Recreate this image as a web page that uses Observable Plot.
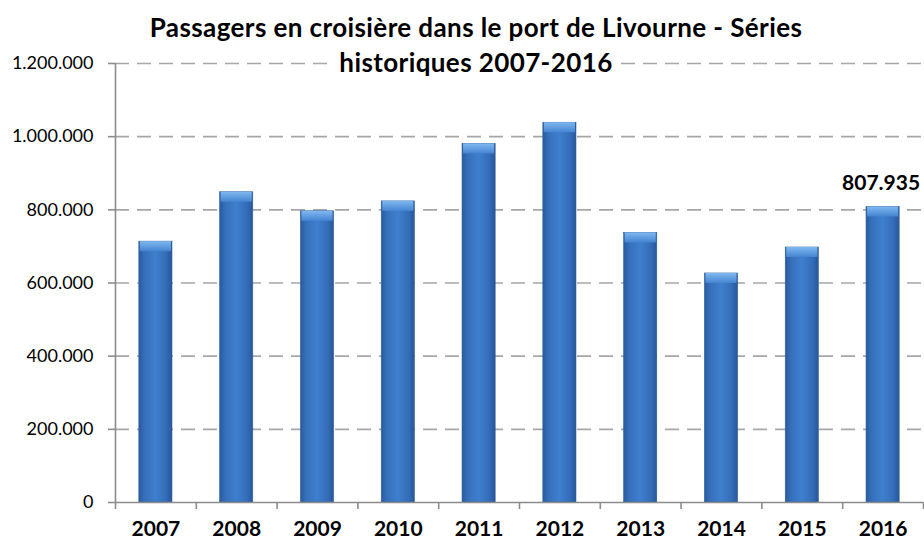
<!DOCTYPE html>
<html>
<head>
<meta charset="utf-8">
<script src="https://cdn.jsdelivr.net/npm/d3@7"></script>
<script src="https://cdn.jsdelivr.net/npm/@observablehq/plot@0.6"></script>
<style>
  html, body { margin: 0; padding: 0; background: #fff; }
  #wrap { position: relative; width: 924px; height: 542px; font-family: Lato, "Open Sans", sans-serif; }
  #title { position: absolute; left: 0; width: 952px; top: 10px; text-align: center; font-weight: bold; font-size: 26px; letter-spacing: 0.4px; line-height: 35px; color: #000; z-index: 2; }
  #title span { background: #fff; padding: 0 6px; }
  svg { display: block; }
</style>
</head>
<body>
<div id="wrap">
  <div id="title"><span>Passagers en croisière dans le port de Livourne - Séries</span><br><span>historiques 2007-2016</span></div>
  <div id="chart"></div>
</div>
<script>
const years = ["2007","2008","2009","2010","2011","2012","2013","2014","2015","2016"];
const passengers = [713000, 848000, 796000, 823000, 980000, 1038000, 737000, 626000, 697000, 807935];
const yTicks = [0, 200000, 400000, 600000, 800000, 1000000, 1200000];
const labelledYear = "2016";

const data = years.map((y, i) => ({year: y, value: passengers[i]}));
const locale = d3.formatLocale({decimal: ",", thousands: ".", grouping: [3], currency: ["", "€"]});
const fmt = locale.format(",d");

const W = 924, H = 542, mL = 115, mR = 1, mT = 63, mB = 40;
const step = (W - mL - mR) / years.length;

const defs = () => {
  const d = d3.create("svg:defs");
  const g = d.append("linearGradient").attr("id", "barGrad").attr("x1", 0).attr("x2", 1).attr("y1", 0).attr("y2", 0);
  g.append("stop").attr("offset", "0%").attr("stop-color", "#2a5b9f");
  g.append("stop").attr("offset", "18%").attr("stop-color", "#3670bb");
  g.append("stop").attr("offset", "50%").attr("stop-color", "#3f7fce");
  g.append("stop").attr("offset", "82%").attr("stop-color", "#346db8");
  g.append("stop").attr("offset", "100%").attr("stop-color", "#28579a");
  const b = d.append("linearGradient").attr("id", "bevelGrad").attr("x1", 0).attr("x2", 0).attr("y1", 0).attr("y2", 1);
  b.append("stop").attr("offset", "0%").attr("stop-color", "#80b8ef");
  b.append("stop").attr("offset", "100%").attr("stop-color", "#4484d2");
  return d.node();
};

const chart = Plot.plot({
  width: W, height: H,
  marginLeft: mL, marginRight: mR, marginTop: mT, marginBottom: mB,
  style: {fontFamily: "Lato, 'Open Sans', sans-serif", background: "#fff"},
  x: {domain: years, paddingInner: 0.59, paddingOuter: 0.295, round: false, label: null},
  y: {domain: [0, 1200000], label: null},
  marks: [
    defs,
    Plot.ruleY(yTicks.filter(d => d > 0), {stroke: "#a6a6a6", strokeWidth: 1.6, strokeDasharray: "14,8"}),
    Plot.barY(data, {x: "year", y: "value", fill: "url(#barGrad)", stroke: "#2c5a96", strokeWidth: 0.6}),
    Plot.barY(data, {x: "year", y1: "value", y2: "value", insetBottom: -10, insetLeft: 1, insetRight: 1, fill: "url(#bevelGrad)"}),
    Plot.ruleY([0], {stroke: "#8c8c8c", strokeWidth: 1.6}),
    Plot.ruleX([0], {x: () => years[0], dx: -step / 2, y1: 0, y2: 1200000, stroke: "#8c8c8c", strokeWidth: 1.6}),
    Plot.ruleX(years, {x: d => d, dx: -step / 2, y1: 0, y2: 0, insetBottom: -7, stroke: "#8c8c8c", strokeWidth: 1.6}),
    Plot.ruleX([years[years.length - 1]], {x: d => d, dx: step / 2, y1: 0, y2: 0, insetBottom: -7, stroke: "#8c8c8c", strokeWidth: 1.6}),
    Plot.axisY({ticks: yTicks, tickFormat: fmt, tickSize: 7, tickPadding: 15, fontSize: 18, stroke: "#8c8c8c", strokeWidth: 1.6, color: "#000"}),
    Plot.axisX({tickSize: 0, tickPadding: 19, fontSize: 21, fontWeight: "bold", color: "#000"}),
    Plot.text(data.filter(d => d.year === labelledYear), {x: "year", y: "value", text: d => fmt(d.value), dy: -17, dx: -2, lineAnchor: "bottom", fontSize: 21, fontWeight: "bold", fill: "#000"})
  ]
});
document.getElementById("chart").appendChild(chart);
</script>
</body>
</html>
